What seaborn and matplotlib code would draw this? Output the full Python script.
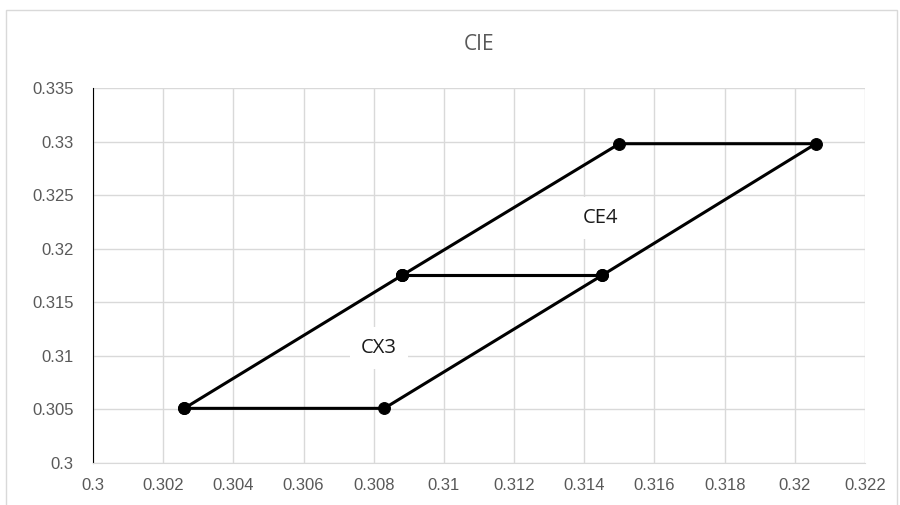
import matplotlib
matplotlib.use("Agg")
import matplotlib.pyplot as plt
import seaborn as sns
import pandas as pd

# CIE corner coordinates (closed quadrangles)
cx3_x = [0.3026, 0.3083, 0.3145, 0.3088, 0.3026]
cx3_y = [0.3051, 0.3051, 0.3175, 0.3175, 0.3051]
ce4_x = [0.3088, 0.3145, 0.3206, 0.3150, 0.3088]
ce4_y = [0.3175, 0.3175, 0.3298, 0.3298, 0.3175]
x_ticks = [0.3, 0.302, 0.304, 0.306, 0.308, 0.31, 0.312, 0.314, 0.316, 0.318, 0.32, 0.322]
y_ticks = [0.3, 0.305, 0.31, 0.315, 0.32, 0.325, 0.33, 0.335]
tick_fmt = lambda v: f"{v:.3f}".rstrip("0").rstrip(".")

sns.set_style("white")
plt.rcParams['font.family'] = ['Liberation Sans', 'DejaVu Sans']

fig = plt.figure(figsize=(9, 5.05), dpi=100)
ax = fig.add_axes([93 / 900, 1 - 463 / 505, (865 - 93) / 900, (463 - 88) / 505])

for name, xs, ys in [("CX3", cx3_x, cx3_y), ("CE4", ce4_x, ce4_y)]:
    df = pd.DataFrame({"x": xs, "y": ys})
    sns.lineplot(data=df, x="x", y="y", sort=False, estimator=None, ax=ax,
                 color="black", lw=2.2, marker="o", markersize=8.5,
                 markeredgecolor="black", zorder=3)

ax.set_xlim(0.3, 0.322)
ax.set_ylim(0.3, 0.335)
ax.set_xticks(x_ticks)
ax.set_yticks(y_ticks)
ax.set_xticklabels([tick_fmt(v) for v in x_ticks])
ax.set_yticklabels([tick_fmt(v) for v in y_ticks])
ax.tick_params(axis="both", colors="#595959", labelsize=12, length=0)
ax.tick_params(axis="x", pad=11)
ax.tick_params(axis="y", pad=14)
ax.grid(True, color="#d9d9d9", lw=1)
ax.set_xlabel("")
ax.set_ylabel("")
for s in ["top", "right"]:
    ax.spines[s].set_visible(False)
ax.spines["left"].set_color("black")
ax.spines["bottom"].set_color("#d9d9d9")

box = dict(facecolor="white", edgecolor="none", pad=8)
ax.text(0.30815, 0.3107, "CX3", fontsize=14.5, family=["Open Sans", "DejaVu Sans"],
        color="#1a1a1a", ha="center", va="center", bbox=box, zorder=4)
ax.text(0.31446, 0.3229, "CE4", fontsize=14.5, family=["Open Sans", "DejaVu Sans"],
        color="#1a1a1a", ha="center", va="center", bbox=box, zorder=4)

fig.text(0.5 * (93 + 865) / 900, 1 - 45 / 505, "CIE", fontsize=15, color="#595959",
         family=["Open Sans", "DejaVu Sans"], ha="center", va="center")

# light chart border
border = plt.Rectangle((6 / 900, -0.01), 1 - 9 / 900, 1 - 10 / 505 + 0.01,
                       transform=fig.transFigure, fill=False, edgecolor="#d9d9d9", lw=1)
fig.patches.append(border)

fig.savefig("out.png", dpi=100)
